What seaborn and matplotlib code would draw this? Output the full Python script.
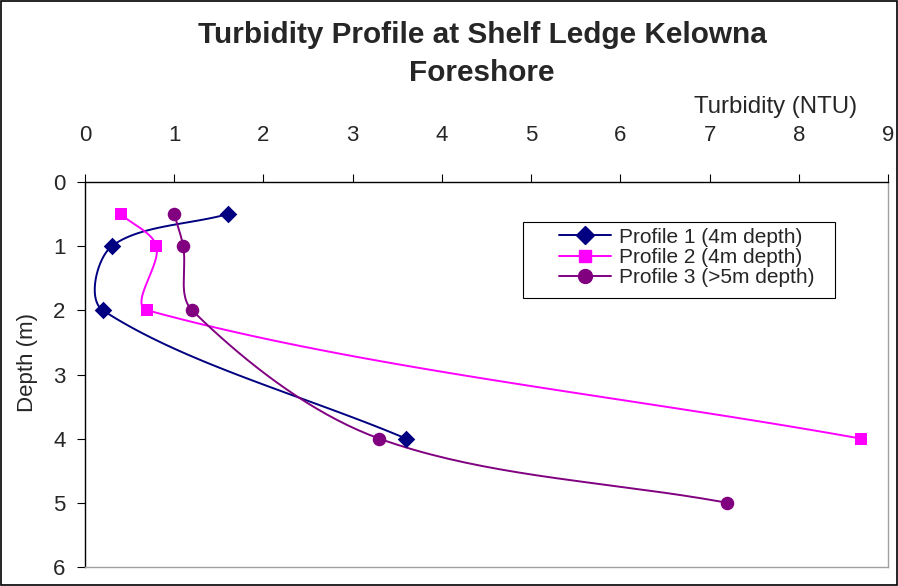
import numpy as np
import pandas as pd
import matplotlib
matplotlib.use("Agg")
import matplotlib.pyplot as plt
from matplotlib.lines import Line2D
import seaborn as sns

# ---- data ----
p1_turb = [1.6, 0.3, 0.2, 3.6]
p1_depth = [0.5, 1.0, 2.0, 4.0]
p2_turb = [0.4, 0.8, 0.7, 8.7]
p2_depth = [0.5, 1.0, 2.0, 4.0]
p3_turb = [1.0, 1.1, 1.2, 3.3, 7.2]
p3_depth = [0.5, 1.0, 2.0, 4.0, 5.0]
labels = ["Profile 1 (4m depth)", "Profile 2 (4m depth)", "Profile 3 (>5m depth)"]
colors = ["#000080", "#FF00FF", "#800080"]
markers = ["D", "s", "o"]
x_ticks = list(range(0, 10))
y_ticks = list(range(0, 7))

sns.set_theme(style="white")
plt.rcParams["font.family"] = ["Liberation Sans", "DejaVu Sans"]

fig = plt.figure(figsize=(8.98, 5.86), dpi=100)
ax = fig.add_axes([0.0947, 0.0324, 0.8942, 0.657])

# pixel scale per unit, used for smoothing in display-proportional space
sx, sy = 89.2, 64.2


def smooth(xs, ys, n=40):
    P = np.column_stack([np.array(xs) * sx, np.array(ys) * sy])
    out = [P[0]]
    m = len(P)
    for i in range(m - 1):
        p0 = P[i - 1] if i > 0 else P[i]
        p1 = P[i]
        p2 = P[i + 1]
        p3 = P[i + 2] if i + 2 < m else P[i + 1]
        d01 = np.linalg.norm(p1 - p0)
        d12 = np.linalg.norm(p2 - p1)
        d23 = np.linalg.norm(p3 - p2)
        f1 = d12 / (d01 + d12) / 3.0 if (d01 + d12) > 0 else 0
        f2 = d12 / (d12 + d23) / 3.0 if (d12 + d23) > 0 else 0
        c1 = p1 + (p2 - p0) * f1
        c2 = p2 - (p3 - p1) * f2
        t = np.linspace(0, 1, n)[1:, None]
        seg = ((1 - t) ** 3) * p1 + 3 * ((1 - t) ** 2) * t * c1 + 3 * (1 - t) * t ** 2 * c2 + t ** 3 * p2
        out.extend(seg)
    out = np.array(out)
    return out[:, 0] / sx, out[:, 1] / sy


series = [(p1_turb, p1_depth), (p2_turb, p2_depth), (p3_turb, p3_depth)]
msizes = [80, 80, 95]
handles = []
for (xs, ys), lab, c, mk, ms in zip(series, labels, colors, markers, msizes):
    cx, cy = smooth(xs, ys)
    df_c = pd.DataFrame({"x": cx, "y": cy})
    sns.lineplot(data=df_c, x="x", y="y", sort=False, estimator=None, color=c, lw=1.4, ax=ax)
    df_p = pd.DataFrame({"x": xs, "y": ys})
    sns.scatterplot(data=df_p, x="x", y="y", marker=mk, s=ms, color=c, edgecolor=c, linewidth=0, ax=ax, zorder=5)
    handles.append(Line2D([0], [0], color=c, lw=1.4, marker=mk, markersize=9 if mk != "o" else 10, label=lab))

ax.set_xlim(0, 9)
ax.set_ylim(6, 0)
ax.set_xticks(x_ticks)
ax.set_yticks(y_ticks)
ax.xaxis.tick_top()
ax.tick_params(axis="both", which="both", direction="out", length=6, width=0.8, color="black",
               labelsize=16, pad=4)
ax.tick_params(axis="x", top=True, bottom=False, pad=20)
ax.tick_params(axis="y", left=True, pad=8)
ax.set_xlabel("")
ax.set_ylabel("")
fig.text(0.031, 0.382, "Depth (m)", rotation=90, ha="center", va="center", fontsize=16)

for side in ["top", "left"]:
    ax.spines[side].set_color("black")
    ax.spines[side].set_linewidth(1.0)
for side in ["bottom", "right"]:
    ax.spines[side].set_color("#A0A0A0")
    ax.spines[side].set_linewidth(1.0)

fig.text(0.537, 0.94, "Turbidity Profile at Shelf Ledge Kelowna", ha="center", va="center",
         fontsize=21.4, fontweight="bold")
fig.text(0.537, 0.875, "Foreshore", ha="center", va="center", fontsize=21.4, fontweight="bold")
fig.text(0.8635, 0.818, "Turbidity (NTU)", ha="center", va="center", fontsize=17.3)

# legend frame drawn separately (Excel style, wider padding)
frame = plt.Rectangle((523 / 898, 1 - 298 / 586), (835 - 523) / 898, (298 - 222) / 586,
                      transform=fig.transFigure, fill=True, facecolor="white",
                      edgecolor="black", lw=0.8, zorder=8, clip_on=False)
ax.add_patch(frame)
leg = ax.legend(handles=handles, loc="center", bbox_to_anchor=(0.749, 0.804), frameon=False,
                fontsize=15, handlelength=2.5, handletextpad=0.4, labelspacing=0.07,
                borderpad=0.0, borderaxespad=0)
leg.set_zorder(10)

# outer figure border
fig.patches.append(plt.Rectangle((0.001, 0.001), 0.998, 0.997, transform=fig.transFigure,
                                 fill=False, edgecolor="black", lw=1.2))

fig.savefig("out.png", dpi=100)
